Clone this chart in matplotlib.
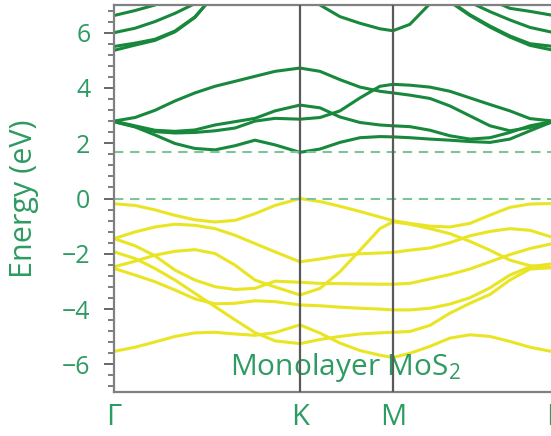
import numpy as np
import matplotlib
matplotlib.use("Agg")
import matplotlib.pyplot as plt
from matplotlib.ticker import MultipleLocator

plt.rcParams["font.family"] = ["Open Sans", "DejaVu Sans"]

nan = np.nan

# positions along the path Gamma-K-M-Gamma (Gamma-K = 1)
k_path = [0.0, 0.113, 0.220, 0.328, 0.435, 0.543, 0.651, 0.758, 0.866, 1.0,
          1.108, 1.215, 1.323, 1.430, 1.5,
          1.591, 1.699, 1.806, 1.914, 2.022, 2.129, 2.237, 2.366]
sym_pos = [0.0, 1.0, 1.5, 2.366]
sym_labels = ["Γ", "K", "M", "Γ"]

# valence bands (eV)
vb1 = [-0.19, -0.25, -0.41, -0.61, -0.77, -0.85, -0.79, -0.55, -0.25, 0.0,
       -0.11, -0.28, -0.47, -0.67, -0.80,
       -0.90, -1.00, -1.03, -0.90, -0.60, -0.32, -0.20, -0.18]
vb2 = [-1.45, -1.21, -1.03, -0.93, -0.97, -1.09, -1.33, -1.63, -1.93, -2.29,
       -2.19, -2.07, -2.00, -1.97, -1.95,
       -1.87, -1.79, -1.60, -1.35, -1.19, -1.09, -1.15, -1.42]
vb3 = [-1.45, -1.71, -2.07, -2.59, -2.95, -3.19, -3.29, -3.25, -2.99, -3.03,
       -3.07, -3.08, -3.09, -3.10, -3.10,
       -3.07, -2.91, -2.75, -2.55, -2.29, -2.03, -1.81, -1.62]
vb4 = [-2.47, -2.27, -2.05, -1.91, -1.85, -1.99, -2.41, -2.95, -3.20, -3.49,
       -3.25, -2.65, -1.87, -1.09, -0.84,
       -0.93, -1.09, -1.27, -1.55, -1.87, -2.23, -2.43, -2.50]
vb5 = [-2.53, -2.77, -3.01, -3.31, -3.63, -3.81, -3.79, -3.70, -3.73, -3.85,
       -3.88, -3.93, -3.97, -4.00, -4.03,
       -4.03, -3.97, -3.82, -3.59, -3.23, -2.77, -2.47, -2.35]
vb6 = [-1.93, -2.17, -2.53, -2.95, -3.43, -3.91, -4.39, -4.85, -5.15, -5.25,
       -5.10, -4.99, -4.90, -4.86, -4.84,
       -4.81, -4.59, -4.15, -3.79, -3.47, -2.95, -2.55, -2.50]
vb7 = [-5.53, -5.38, -5.19, -4.99, -4.86, -4.84, -4.90, -4.95, -4.85, -4.57,
       -4.87, -5.23, -5.50, -5.67, -5.75,
       -5.60, -5.35, -5.05, -4.93, -4.99, -5.17, -5.38, -5.55]

# conduction bands (eV)
cb1 = [2.78, 2.59, 2.30, 1.99, 1.81, 1.76, 1.91, 2.11, 1.94, 1.67,
       1.79, 2.03, 2.20, 2.24, 2.23,
       2.20, 2.15, 2.11, 2.06, 2.03, 2.15, 2.45, 2.80]
cb2 = [2.80, 2.63, 2.47, 2.43, 2.48, 2.66, 2.78, 2.90, 3.17, 3.38,
       3.28, 2.95, 2.75, 2.66, 2.63,
       2.60, 2.47, 2.27, 2.15, 2.20, 2.39, 2.63, 2.80]
cb3 = [2.78, 2.60, 2.42, 2.37, 2.39, 2.45, 2.55, 2.80, 2.90, 2.87,
       2.93, 3.17, 3.64, 4.06, 4.13,
       4.10, 4.03, 3.88, 3.64, 3.40, 3.17, 2.89, 2.80]
cb4 = [2.80, 2.93, 3.19, 3.53, 3.82, 4.06, 4.24, 4.42, 4.60, 4.72,
       4.60, 4.30, 4.03, 3.88, 3.82,
       3.74, 3.62, 3.35, 2.99, 2.63, 2.45, 2.57, 2.78]
cb5a = [5.50, 5.62, 5.76, 6.06, 6.57, 7.40, nan, nan, nan, nan,
        nan, nan, nan, nan, nan,
        nan, 7.60, 7.15, 6.65, 6.24, 5.88, 5.60, 5.50]
cb5b = [5.36, 5.55, 5.72, 6.03, 6.55, 7.40, nan, nan, nan, nan,
        nan, nan, nan, nan, nan,
        nan, 7.60, 7.12, 6.62, 6.20, 5.84, 5.54, 5.36]
cb6 = [6.00, 6.16, 6.40, 6.70, 7.05, 7.50, nan, nan, nan, nan,
       nan, nan, nan, nan, nan,
       nan, nan, 7.60, 7.10, 6.76, 6.46, 6.19, 6.00]
cb7 = [6.62, 6.80, 7.00, 7.40, nan, nan, nan, nan, nan, nan,
       nan, nan, nan, nan, nan,
       nan, nan, nan, nan, 7.20, 6.88, 6.77, 6.62]
cb8 = [nan, nan, nan, nan, nan, nan, nan, nan, nan, 7.60,
       7.00, 6.58, 6.34, 6.14, 6.07,
       6.30, 7.05, 7.80, nan, nan, nan, nan, nan]

valence = [vb1, vb2, vb3, vb4, vb5, vb6, vb7]
conduction = [cb1, cb2, cb3, cb4, cb5a, cb5b, cb6, cb7, cb8]
vbm = 0.0
cbm = 1.68

GREEN = "#17883c"
YELLOW = "#e9e524"
TEXT = "#2e9b62"
DASH = "#7cc49a"
GREY = "#5a5a5a"

fig = plt.figure(figsize=(5.51, 4.36), dpi=100)
ax = fig.add_axes([0.2069, 0.1009, 0.7985, 0.8876])

for band in valence:
    ax.plot(k_path, band, color=YELLOW, lw=2.2, solid_capstyle="round")
for band in conduction:
    ax.plot(k_path, band, color=GREEN, lw=2.2, solid_capstyle="round")

for e in (vbm, cbm):
    ln, = ax.plot([k_path[0], k_path[-1]], [e, e], color=DASH, lw=1.5)
    ln.set_dashes([4.5, 3.2])

for x in sym_pos[1:-1]:
    ax.axvline(x, color=GREY, lw=1.6, zorder=4)

ax.set_xlim(sym_pos[0], sym_pos[-1])
ax.set_ylim(-7, 7)
ax.set_xticks(sym_pos)
ax.set_xticklabels(sym_labels)
ax.tick_params(axis="x", length=0, pad=8, labelsize=21, labelcolor=TEXT)

ax.yaxis.set_major_locator(MultipleLocator(2))
ax.yaxis.set_minor_locator(MultipleLocator(0.4))
ax.tick_params(axis="y", which="major", direction="out", length=7, width=1.3,
               color=GREY, pad=10, labelsize=18, labelcolor=TEXT)
ax.tick_params(axis="y", which="minor", direction="out", length=4.5,
               width=1.1, color=GREY)

for sp in ax.spines.values():
    sp.set_color("#808080")
    sp.set_linewidth(1.6)

ax.set_ylabel("Energy (eV)", fontsize=22, color=TEXT)
ax.yaxis.set_label_coords(-0.17, 0.5)

ax.text(0.624, -6.37, "Monolayer MoS$\\mathregular{_2}$", fontsize=21.5,
        color=TEXT, ha="left", va="baseline")

fig.savefig("out.png", dpi=100)
